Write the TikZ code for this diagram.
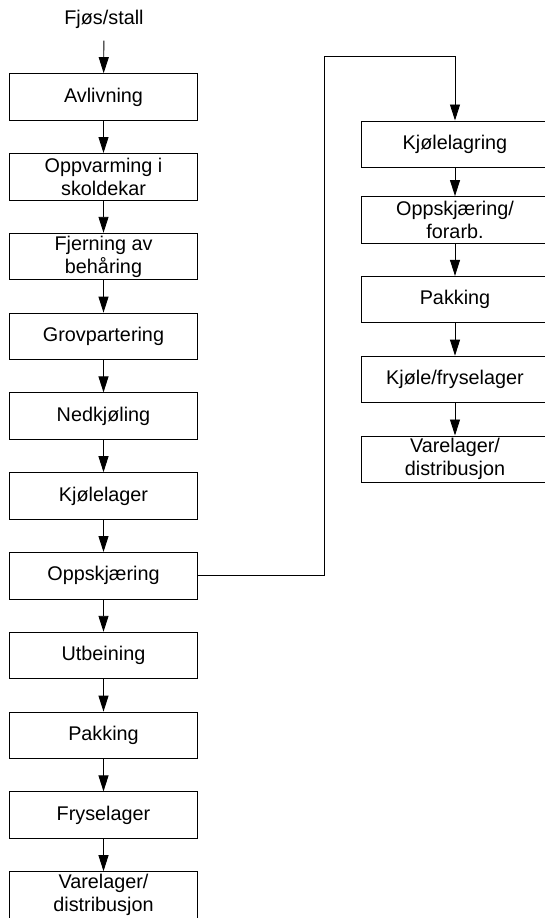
\documentclass[tikz,border=0pt]{standalone}
\usepackage{fontspec}
\setmainfont{Liberation Sans}
\usetikzlibrary{positioning,arrows.meta}

\begin{document}
\begin{tikzpicture}[x=1pt,y=-1pt,>={Triangle[length=16pt,width=10pt]},->,line width=0.9pt,
  node distance=79.8pt,
  step node/.style={rectangle,draw,minimum width=188pt,minimum height=46.5pt,
    inner sep=0pt,align=center,font=\fontsize{19.8}{23}\selectfont},
  label node/.style={inner sep=0pt,font=\fontsize{19.8}{23}\selectfont}]
\useasboundingbox (0,0) rectangle (544,918);
%start
  \node[label node,anchor=base] (fjos) at (104,24) {Fjøs/stall};
%left column
  \node[step node] (avlivning) at (103.5,96.9) {Avlivning};
  \node[step node] (oppvarming) [below of=avlivning] {Oppvarming i\\skoldekar};
  \node[step node] (fjerning) [below of=oppvarming] {Fjerning av\\behåring};
  \node[step node] (grov) [below of=fjerning] {Grovpartering};
  \node[step node] (nedkjoling) [below of=grov] {Nedkjøling};
  \node[step node] (kjolelager) [below of=nedkjoling] {Kjølelager};
  \node[step node] (oppskj) [below of=kjolelager] {Oppskjæring};
  \node[step node] (utbeining) [below of=oppskj] {Utbeining};
  \node[step node] (pakking) [below of=utbeining] {Pakking};
  \node[step node] (fryselager) [below of=pakking] {Fryselager};
  \node[step node] (varelager) [below of=fryselager] {Varelager/\\distribusjon};
%right column
  \node[step node] (kjolelagring) at (455,144.2) {Kjølelagring};
  \node[step node] (forarb) [below of=kjolelagring,node distance=75.6pt] {Oppskjæring/\\forarb.};
  \node[step node] (pakking2) [below of=forarb] {Pakking};
  \node[step node] (kjolefryse) [below of=pakking2] {Kjøle/fryselager};
  \node[step node] (varelager2) [below of=kjolefryse] {Varelager/\\distribusjon};
  \coordinate (bend) at (324,56);
%paths
  \draw[shorten <=12pt] (fjos) -- (avlivning);
  \foreach \a/\b in {avlivning/oppvarming,oppvarming/fjerning,fjerning/grov,
      grov/nedkjoling,nedkjoling/kjolelager,kjolelager/oppskj,oppskj/utbeining,
      utbeining/pakking,pakking/fryselager,fryselager/varelager,
      kjolelagring/forarb,forarb/pakking2,pakking2/kjolefryse,kjolefryse/varelager2}
    \draw (\a) -- (\b);
  \draw (oppskj.east) -| (bend) -| (kjolelagring.north);
\end{tikzpicture}
\end{document}
